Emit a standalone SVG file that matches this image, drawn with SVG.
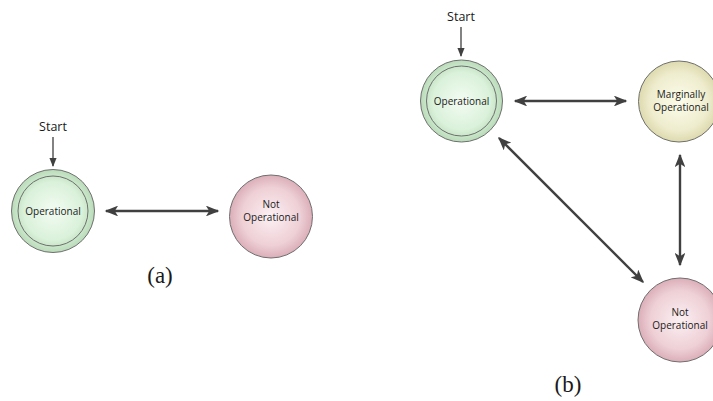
<svg xmlns="http://www.w3.org/2000/svg" width="713" height="401" viewBox="0 0 713 401">
<style>
.node{stroke:#6f6f6f;stroke-width:1}
.lbl{font-family:"Open Sans","Liberation Sans",sans-serif;font-size:10px;fill:#1a1a1a;text-anchor:middle}
.start{font-family:"Open Sans","Liberation Sans",sans-serif;font-size:12.5px;fill:#1a1a1a;text-anchor:middle}
.cap{font-family:"Liberation Serif",serif;font-size:23px;fill:#1a1a1a;text-anchor:middle}
.dbl{stroke:#404040;stroke-width:2.4;fill:none;marker-start:url(#ah);marker-end:url(#ah)}
.sgl{stroke:#404040;stroke-width:1.3;fill:none;marker-end:url(#ahs)}
</style>
<defs>
<radialGradient id="gG" cx="50%" cy="50%" r="50%"><stop offset="0" stop-color="#f3fcf3"/><stop offset="0.7" stop-color="#daf1da"/><stop offset="1" stop-color="#b9dbb9"/></radialGradient>
<radialGradient id="gP" cx="50%" cy="50%" r="50%"><stop offset="0" stop-color="#fcf0f3"/><stop offset="0.7" stop-color="#eed0d6"/><stop offset="1" stop-color="#dbaeb8"/></radialGradient>
<radialGradient id="gY" cx="50%" cy="50%" r="50%"><stop offset="0" stop-color="#fcfcea"/><stop offset="0.7" stop-color="#efedcf"/><stop offset="1" stop-color="#dddaae"/></radialGradient>
<marker id="ah" viewBox="0 0 10 8" refX="9" refY="4" markerWidth="6" markerHeight="4.5" orient="auto-start-reverse" markerUnits="strokeWidth"><path d="M0,0 L10,4 L0,8 L2.5,4 z" fill="#404040"/></marker>
<marker id="ahs" viewBox="0 0 10 8" refX="9" refY="4" markerWidth="7" markerHeight="6" orient="auto" markerUnits="strokeWidth"><path d="M0,0 L10,4 L0,8 z" fill="#404040"/></marker>
</defs>
<g id="connectors">
<line class="sgl" x1="53" y1="137" x2="53" y2="166"/>
<line class="dbl" x1="106" y1="211" x2="218" y2="211"/>
<line class="sgl" x1="461" y1="27" x2="461" y2="56"/>
<line class="dbl" x1="515" y1="101" x2="626" y2="101"/>
<line class="dbl" x1="680" y1="155" x2="680" y2="265"/>
<line class="dbl" x1="499" y1="138" x2="643" y2="282"/>
</g>
<g id="a-start"><text class="start" x="53" y="131">Start</text></g>
<g id="a-operational">
<circle class="node" cx="53" cy="211" r="41.5" fill="url(#gG)"/>
<circle class="node" cx="53" cy="211" r="35" fill="none"/>
<text class="lbl" x="53" y="215">Operational</text>
</g>
<g id="a-not-operational">
<circle class="node" cx="271" cy="216.5" r="41.5" fill="url(#gP)"/>
<text class="lbl" x="271" y="208">Not</text>
<text class="lbl" x="271" y="221">Operational</text>
</g>
<g id="a-caption"><text class="cap" x="160" y="283">(a)</text></g>
<g id="b-start"><text class="start" x="461" y="21">Start</text></g>
<g id="b-operational">
<circle class="node" cx="461.5" cy="101" r="41" fill="url(#gG)"/>
<circle class="node" cx="461.5" cy="101" r="35" fill="none"/>
<text class="lbl" x="461.5" y="105">Operational</text>
</g>
<g id="b-marginally-operational">
<circle class="node" cx="679" cy="101.5" r="40.5" fill="url(#gY)"/>
<text class="lbl" x="681" y="98">Marginally</text>
<text class="lbl" x="681" y="111">Operational</text>
</g>
<g id="b-not-operational">
<circle class="node" cx="680" cy="320" r="42" fill="url(#gP)"/>
<text class="lbl" x="680" y="316">Not</text>
<text class="lbl" x="680" y="329">Operational</text>
</g>
<g id="b-caption"><text class="cap" x="568" y="392">(b)</text></g>
</svg>
